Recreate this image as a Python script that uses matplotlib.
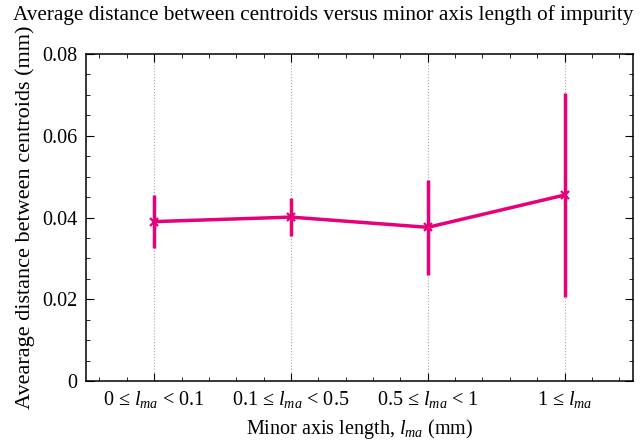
import numpy as np
import matplotlib
matplotlib.use('Agg')
import matplotlib.pyplot as plt
from matplotlib.ticker import MultipleLocator

plt.rcParams['font.family'] = ['Liberation Serif', 'DejaVu Serif']
plt.rcParams['mathtext.fontset'] = 'custom'
plt.rcParams['mathtext.rm'] = 'Liberation Serif'
plt.rcParams['mathtext.it'] = 'Liberation Serif:italic'

# data
categories = ['0 ≤ $l_{ma}$ < 0.1', '0.1 ≤ $l_{ma}$ < 0.5', '0.5 ≤ $l_{ma}$ < 1', '1 ≤ $l_{ma}$']
avg_dist = [0.0390, 0.0401, 0.0376, 0.0455]
err = [0.0064, 0.0047, 0.0117, 0.0249]
yticks = [0, 0.02, 0.04, 0.06, 0.08]
ytick_labels = ['0', '0.02', '0.04', '0.06', '0.08']

color = '#e6007a'

fig = plt.figure(figsize=(6.4, 4.43), dpi=100)
ax = fig.add_axes([0.134, 0.140, 0.855, 0.738])

x = np.arange(len(categories))
ax.errorbar(x, avg_dist, yerr=err, color=color, lw=2.5, elinewidth=2.5,
            capsize=0, marker='x', ms=6, mew=1.6)

ax.set_xlim(-0.5, 3.5)
ax.set_ylim(0, 0.08)
ax.set_xticks(x)
ax.set_xticklabels(categories)
ax.xaxis.set_minor_locator(MultipleLocator(0.2))
ax.set_yticks(yticks)
ax.set_yticklabels(ytick_labels)
ax.yaxis.set_minor_locator(MultipleLocator(0.005))
ax.tick_params(which='both', direction='in', top=True, right=True, labelsize=14.5)
ax.tick_params(which='major', length=6, pad=6)
ax.tick_params(which='minor', length=3)
ax.grid(axis='x', which='major', color='#aaaaaa', ls=':', lw=0.8)
for s in ax.spines.values():
    s.set_linewidth(1.1)

ax.set_xlabel('Minor axis length, $l_{ma}$ (mm)', fontsize=14.5, labelpad=5)
ax.set_ylabel('Avearage distance between centroids (mm)', fontsize=16, labelpad=5)
fig.text(0.02, 0.966, 'Average distance between centroids versus minor axis length of impurity',
         fontsize=15.3, ha='left', va='center')

fig.savefig('out.png', dpi=100)
